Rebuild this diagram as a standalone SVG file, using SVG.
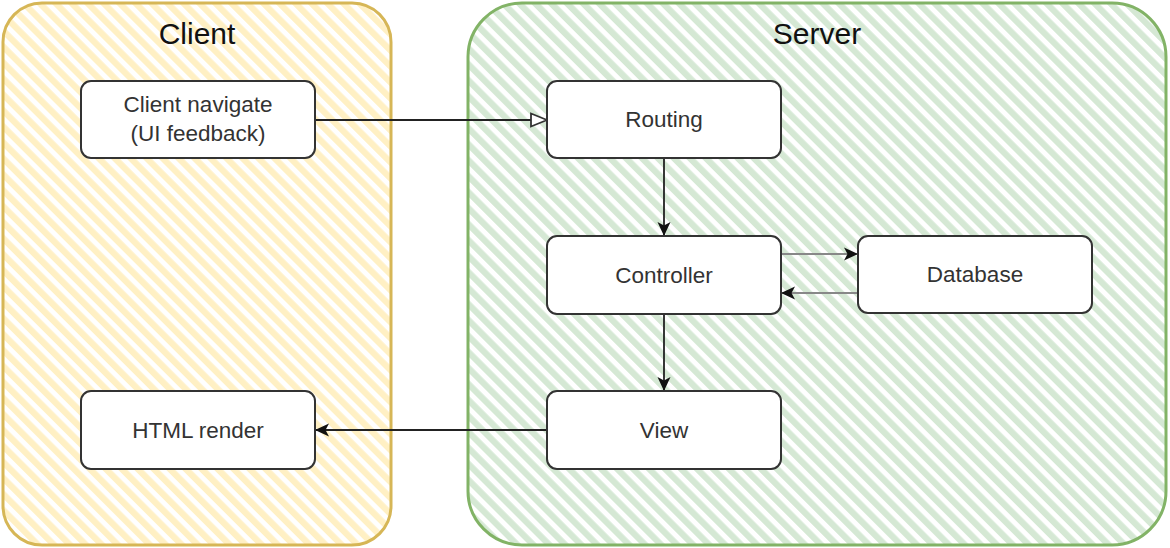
<svg xmlns="http://www.w3.org/2000/svg" width="1170" height="548" viewBox="0 0 1170 548">
  <style>
    .title { font-family: "Liberation Sans", Arial, sans-serif; font-size: 30px; fill: #111; text-anchor: middle; }
    .node rect { fill: #ffffff; stroke: #333333; stroke-width: 2; }
    .node text { font-family: "Liberation Sans", Arial, sans-serif; font-size: 22.5px; fill: #333333; text-anchor: middle; }
    .edge { fill: none; stroke: #222222; stroke-width: 1.8; }
    .edge-gray { fill: none; stroke: #888888; stroke-width: 2; }
  </style>
  <defs>
    <pattern id="hatchY" patternUnits="userSpaceOnUse" width="11.3" height="11.3" patternTransform="rotate(-45)">
      <rect width="11.3" height="11.3" fill="#ffffff"/>
      <rect width="6.3" height="11.3" fill="#fff0c4"/>
    </pattern>
    <pattern id="hatchG" patternUnits="userSpaceOnUse" width="11.3" height="11.3" patternTransform="rotate(-45)">
      <rect width="11.3" height="11.3" fill="#ffffff"/>
      <rect width="6.3" height="11.3" fill="#d5e8d4"/>
    </pattern>
    <marker id="arrFill" viewBox="0 0 14 14" refX="14" refY="7" markerWidth="14" markerHeight="14" markerUnits="userSpaceOnUse" orient="auto">
      <path d="M0,0.5 L14,7 L0,13.5 L3.5,7 Z" fill="#111111" stroke="none"/>
    </marker>
    <marker id="arrOpen" viewBox="0 0 18 16" refX="17" refY="8" markerWidth="18" markerHeight="16" markerUnits="userSpaceOnUse" orient="auto">
      <path d="M1,1.5 L17,8 L1,14.5 Z" fill="#ffffff" stroke="#333333" stroke-width="1.8"/>
    </marker>
  </defs>

  <g id="client-container">
    <rect x="3" y="3" width="388" height="542" rx="39" ry="39" fill="url(#hatchY)" stroke="#d6b656" stroke-width="3"/>
    <text class="title" x="197" y="44">Client</text>
  </g>
  <g id="server-container">
    <rect x="468" y="3" width="698" height="542" rx="54" ry="54" fill="url(#hatchG)" stroke="#82b366" stroke-width="3"/>
    <text class="title" x="817" y="44">Server</text>
  </g>

  <g id="connectors">
    <line class="edge" x1="315" y1="120" x2="547" y2="120" marker-end="url(#arrOpen)"/>
    <line class="edge" x1="664" y1="158" x2="664" y2="236" marker-end="url(#arrFill)"/>
    <line class="edge-gray" x1="781" y1="254" x2="858" y2="254" marker-end="url(#arrFill)"/>
    <line class="edge-gray" x1="858" y1="293" x2="781" y2="293" marker-end="url(#arrFill)"/>
    <line class="edge" x1="664" y1="314" x2="664" y2="391" marker-end="url(#arrFill)"/>
    <line class="edge" x1="547" y1="430" x2="315" y2="430" marker-end="url(#arrFill)"/>
  </g>

  <g id="client-navigate" class="node">
    <rect x="81" y="81" width="234" height="77" rx="10" ry="10"/>
    <text x="198" y="112">Client navigate</text>
    <text x="198" y="141">(UI feedback)</text>
  </g>
  <g id="routing" class="node">
    <rect x="547" y="81" width="234" height="77" rx="10" ry="10"/>
    <text x="664" y="127">Routing</text>
  </g>
  <g id="controller" class="node">
    <rect x="547" y="236" width="234" height="78" rx="10" ry="10"/>
    <text x="664" y="283">Controller</text>
  </g>
  <g id="database" class="node">
    <rect x="858" y="236" width="234" height="77" rx="10" ry="10"/>
    <text x="975" y="282">Database</text>
  </g>
  <g id="view" class="node">
    <rect x="547" y="391" width="234" height="78" rx="10" ry="10"/>
    <text x="664" y="438">View</text>
  </g>
  <g id="html-render" class="node">
    <rect x="81" y="391" width="234" height="78" rx="10" ry="10"/>
    <text x="198" y="438">HTML render</text>
  </g>
</svg>
